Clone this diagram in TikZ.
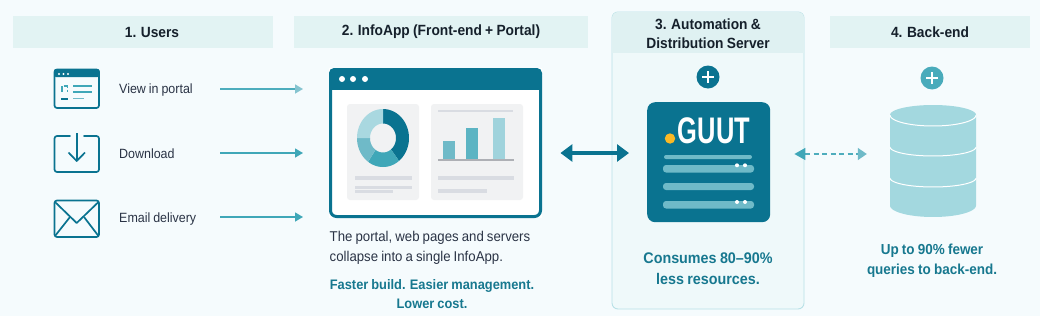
\documentclass[tikz,border=0pt]{standalone}
\usepackage{fontspec}
\setmainfont[FakeStretch=0.93,WordSpace=0.85]{Liberation Sans}
\usetikzlibrary{arrows.meta}
\definecolor{pagebg}{HTML}{F5FBFD}
\definecolor{headband}{HTML}{E2F3F3}
\definecolor{panelfill}{HTML}{EFF9FA}
\definecolor{panelline}{HTML}{B8E1E7}
\definecolor{tealdark}{HTML}{0A7390}
\definecolor{tealtext}{HTML}{17788F}
\definecolor{tealmid}{HTML}{3FA7B8}
\definecolor{teallight}{HTML}{6FBAC8}
\definecolor{tealpale}{HTML}{A9D8E0}
\definecolor{dbfill}{HTML}{A3D8DF}
\definecolor{cardgrey}{HTML}{F1F2F3}
\definecolor{linegrey}{HTML}{D9DCE2}
\definecolor{inktitle}{HTML}{15202B}
\definecolor{inkbody}{HTML}{2A3345}
\definecolor{amberdot}{HTML}{FBB925}
\tikzset{
  x=1pt,y=-1pt,
  headbox/.style={fill=headband,draw=none,inner sep=0pt,minimum height=32pt,
    font=\fontsize{14.8}{19}\selectfont\bfseries,text=inktitle},
  rowlabel/.style={anchor=west,inner sep=0pt,font=\fontsize{13.4}{15}\selectfont,text=inkbody},
  rowarrow/.style={line width=1.4pt,-{Triangle[length=8pt,width=9pt]},shorten >=26pt},
  icon/.style={draw=tealdark,line width=1.7pt,rounded corners=2.5pt},
  badge/.style={circle,inner sep=0pt,minimum size=23pt},
  callout/.style={align=center,inner sep=0pt,font=\fontsize{14.5}{20.5}\selectfont\bfseries,text=tealtext},
  barline/.style={fill=teallight,rounded corners=3pt},
  stub/.style={fill=linegrey}
}
% Ring sector of the dashboard chart; angles run clockwise from east
\newcommand{\ringsector}[3]{%
  \fill[#3] plot[domain=#1:#2,samples=30] ({383+26*cos(\x)},{138+29*sin(\x)})
    -- plot[domain=#2:#1,samples=30] ({383+13*cos(\x)},{138+14.5*sin(\x)}) -- cycle;}
% Lower half of an ellipse across the database drum
\newcommand{\drumarc}[2]{%
  \draw[white,line width=1pt] plot[domain=0:180,samples=40] ({933+43*cos(\x)},{#1+#2*sin(\x)});}
\begin{document}
\begin{tikzpicture}
\useasboundingbox (0,0) rectangle (1040,316);
\fill[pagebg] (0,0) rectangle (1040,316);

% Column headers
\node[headbox,minimum width=260pt] (h1) at (143,32) {\hspace*{18pt}1. Users};
\node[headbox,minimum width=294pt] (h2) at (441,32) {2. InfoApp (Front-end + Portal)};
\node[headbox,minimum width=200pt] (h4) at (930,32) {4. Back-end};

% Server panel with its tinted header band
\filldraw[fill=panelfill,draw=panelline,line width=0.9pt,rounded corners=6pt] (612,12) rectangle (804,309);
\begin{scope}
  \clip[rounded corners=6pt] (612,12) rectangle (804,309);
  \fill[headband!92!panelline] (612,12) rectangle (804,53);
\end{scope}
\node[align=center,inner sep=0pt,font=\fontsize{14.8}{19}\selectfont\bfseries,text=inktitle] (h3) at (708,33.5)
  {3. Automation \&\\Distribution Server};

% Portal icon
\draw[icon] (54.5,69.5) rectangle (99,108);
\fill[tealdark,rounded corners=2pt] (54,69) rectangle (99.5,77);
\foreach \px in {59,63.5,68} \fill[white] (\px,74) circle (1.2);
\draw[tealmid,line width=1.5pt,dash pattern=on 6pt off 1.5pt] (62,92) -- (62,86) -- (67.5,86) -- (67.5,92);
\draw[tealdark,line width=1.6pt] (61,98.7) -- (68,98.7);
\draw[tealmid,line width=1.2pt] (73,86) -- (92,86) (73,92) -- (92,92);
\draw[teallight,line width=1.4pt] (73,98.7) -- (84,98.7);

% Download icon
\draw[icon,line cap=round] (70,136) -- (54.5,136) -- (54.5,172) -- (99,172) -- (99,136) -- (84,136);
\draw[tealdark,line width=1.7pt] (76.7,133) -- (76.7,161);
\draw[tealdark,line width=1.7pt,line join=round] (68.5,152.5) -- (76.7,161) -- (85,152.5);

% Envelope icon
\draw[icon] (54.5,200.5) rectangle (99,237);
\draw[tealdark,line width=1.7pt,line join=round] (55,202) -- (76.7,223) -- (98.5,202);
\draw[tealdark,line width=1.7pt] (55,236) -- (70,217) (98.5,236) -- (84,217);

% Delivery options
\node[rowlabel] (lview) at (119,90) {View in portal};
\node[rowlabel] (ldown) at (119,154) {Download};
\node[rowlabel] (lmail) at (119,219) {Email delivery};

% Application window
\node[draw=none,fill=white,inner sep=0pt,minimum width=213pt,minimum height=150pt,anchor=north west] (portalwin) at (329,68) {};
\draw[tealdark,line width=3pt,rounded corners=6pt] (330.5,69.5) rectangle (540.5,216.5);
\fill[tealdark,rounded corners=5pt] (329,68) rectangle (542,80);
\fill[tealdark] (329,75) rectangle (542,89.5);
\foreach \px in {342,353,365} \fill[white] (\px,79) circle (3);
\fill[cardgrey,rounded corners=3pt] (347,104) rectangle (419,200);
\fill[cardgrey,rounded corners=3pt] (431,104) rectangle (523,200);
\ringsector{-90}{52}{tealdark}
\ringsector{52}{125}{tealmid}
\ringsector{125}{180}{teallight}
\ringsector{180}{270}{tealpale}
\fill[stub] (355,176) rectangle (412,179.5);
\fill[stub] (355,185.5) rectangle (412,188.5);
\fill[stub] (355,189.5) rectangle (393,192.5);
\fill[stub] (438,110) rectangle (513,112);
\fill[teallight] (443,140.5) rectangle (455,160);
\fill[tealmid!85!white] (466,128) rectangle (478,160);
\fill[tealpale!85!teallight] (493,118) rectangle (505,160);
\fill[linegrey!80!black] (438,159.3) rectangle (514,160.8);
\fill[stub] (438,176) rectangle (514,179.5);
\fill[stub] (438,189) rectangle (487,192.5);

% Text below the window
\node[anchor=north west,inner sep=0pt,align=left,font=\fontsize{14.2}{20}\selectfont,text=inkbody] (ptext) at (329.5,231.5)
  {The portal, web pages and servers\\collapse into a single InfoApp.};
\node[callout,font=\fontsize{13.8}{19}\selectfont\bfseries] (pgain) at (432,294.5)
  {Faster build. Easier management.\\Lower cost.};

% Server block
\node[badge,fill=tealdark] (plus3) at (708,77) {};
\draw[white,line width=1.3pt] (702,77) -- (714,77) (708,71) -- (708,83);
\node[fill=tealdark,rounded corners=8pt,inner sep=0pt,minimum width=123pt,minimum height=120pt,anchor=north west] (guutbox) at (647,102) {};
\fill[amberdot] (670,138.5) circle (5.2);
\node[inner sep=0pt,text=white,font=\fontsize{37}{37}\selectfont\bfseries,xscale=0.74] (guut) at (714,131) {GUUT};
\fill[teallight,rounded corners=2pt] (664,155) rectangle (752,159);
\fill[barline] (663,165) rectangle (754,172.5);
\fill[barline] (663,183) rectangle (754,190);
\fill[barline] (663,201) rectangle (754,208.5);
\foreach \py in {165.3,202} \foreach \px in {737,745} \fill[white] (\px,\py) circle (2);
\node[callout,font=\fontsize{15.4}{21}\selectfont\bfseries] (gnote) at (708,269)
  {Consumes 80–90\%\\less resources.};

% Database block
\node[badge,fill=tealmid!80!teallight] (plus4) at (932,78) {};
\draw[white,line width=1.3pt] (926,78) -- (938,78) (932,72) -- (932,84);
\node[inner sep=0pt,minimum width=86pt,minimum height=112pt] (dbstack) at (933,161) {};
\fill[dbfill] plot[domain=180:360,samples=50] ({933+43*cos(\x)},{115+10*sin(\x)})
  -- plot[domain=0:180,samples=50] ({933+43*cos(\x)},{205.5+11.5*sin(\x)}) -- cycle;
\drumarc{115}{11}
\drumarc{147}{9}
\drumarc{178}{9}
\node[callout] (dbnote) at (932,260.5)
  {Up to 90\% fewer\\queries to back-end.};

% Flows between the columns
\coordinate (r1) at (220,89);
\coordinate (r2) at (220,153);
\coordinate (r3) at (220,217);
\coordinate (link) at (600,153);
\coordinate (dlink) at (830,154);
\draw[rowarrow,color=tealmid!70!teallight,-{Triangle[length=8pt,width=9pt,color=teallight!85!white]}] (r1) -- (portalwin.west |- r1);
\draw[rowarrow,color=tealmid] (r2) -- (portalwin.west |- r2);
\draw[rowarrow,color=tealmid] (r3) -- (portalwin.west |- r3);
\draw[tealdark,line width=4pt,{Triangle[length=12pt,width=17pt]}-{Triangle[length=12pt,width=17pt]},
  shorten <=18pt,shorten >=18pt] (portalwin.east |- link) -- (guutbox.west |- link);
\draw[tealmid!70!teallight,line width=1.3pt,dash pattern=on 5pt off 3.5pt,
  {Triangle[length=11pt,width=12pt,color=tealmid,fill=tealmid]}-{Triangle[length=9pt,width=12pt,color=teallight,fill=teallight]},
  shorten <=24pt,shorten >=23pt] (guutbox.east |- dlink) -- (dbstack.west |- dlink);
\end{tikzpicture}
\end{document}
